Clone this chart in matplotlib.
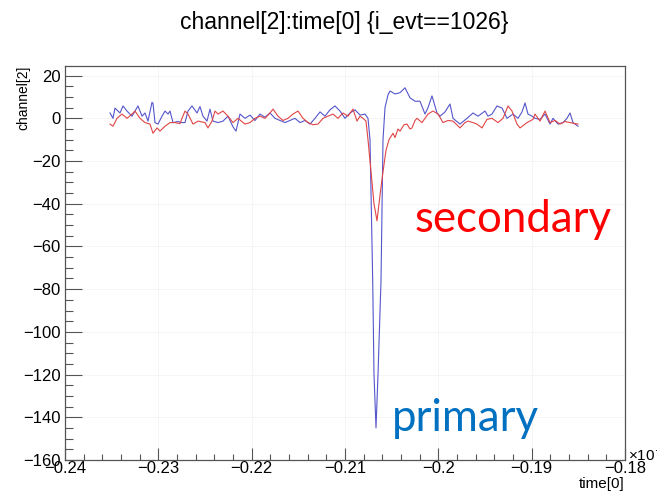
import matplotlib
matplotlib.use("Agg")
import matplotlib.pyplot as plt
from matplotlib.ticker import MultipleLocator

# pixel positions, converted to axis units below
blue_px = [110, 113, 115, 120, 123, 127, 132, 138, 142, 145, 148, 152, 153, 155, 158,
           162, 165, 168, 170, 173, 178, 182, 185, 188, 192, 197, 200, 203, 207, 210,
           213, 218, 223, 228, 233, 236, 240, 245, 250, 255, 260, 265, 270, 275, 280,
           285, 290, 295, 300, 305, 310, 315, 320, 325, 330, 335, 340, 345, 350, 355,
           360, 365, 368, 370, 372.7, 374, 376, 378, 381, 383, 385, 388, 390, 395, 400,
           405, 410, 415, 420, 425, 428, 432, 437, 440, 445, 450, 453, 460, 467, 473,
           478, 485, 488, 492, 497, 502, 507, 513, 518, 522, 525, 528, 532, 535, 540,
           545, 550, 553, 558, 563, 567, 570, 573, 578]
blue_v = [2.5, 0, 4.8, 2.5, 5.8, 3.4, 1, 5.8, 1, 2.5, -1.3, 7.5, 7, -2, -2.7,
          1, 3.4, 2, 3.4, -2, -1.5, -2, -2, 3.4, 5.8, 2.5, 5.5, 1, -1.3, 4.3,
          -1.3, -2, -1.3, 1, -4, -6, 2, 0, 1.5, -1, 2, 0.5, 2.5, 0, -1,
          -2, -1, 0, -2, -1, -2.7, 0, 3, 1, 4, 5.8, 3.4, 0, 2.5, 4,
          1.5, 2, 0, -10, -76, -120, -145, -120, -76, -10, 5, 11, 12.8, 11.4, 12,
          14.3, 9.6, 8, 8, 2, 5, 10.5, 2.5, 1, 3, 6.7, 0, -2.7, 0, 2.5,
          1, 3.4, 1, 2, 5.8, 4.8, 0, 2, 0, 3, 7.2, 2, 1, 0, -0.5,
          2, -2.7, 0, -2.7, -2, 0, 2.5, -2, -3.7]

red_px = [110, 113, 117, 122, 127, 132, 135, 140, 145, 150, 153, 157, 160, 165, 170,
          175, 180, 182, 185, 188, 193, 198, 205, 208, 212, 215, 218, 223, 228, 233,
          238, 245, 250, 255, 260, 265, 270, 273, 278, 283, 288, 293, 298, 303, 308,
          313, 318, 323, 328, 333, 338, 343, 348, 353, 357, 360, 363, 366, 368, 371,
          374, 377, 380, 383, 386, 389, 393, 395, 398, 400, 404, 407, 410, 412, 415,
          417, 422, 425, 428, 433, 438, 443, 448, 453, 460, 465, 468, 473, 477, 482,
          487, 492, 498, 503, 508, 512, 517, 520, 527, 533, 535, 540, 545, 550, 555,
          560, 565, 570, 575, 578]
red_v = [-2.7, -3.7, 0, 2, 0, 2, 3.4, 0, -2, -2.7, -7, -4.5, -6, -3.7, -2,
         -2, -2.5, 0, 3.4, 2, -2.7, -1.3, -2, -4.5, -1.3, 3.4, 2, 3.4, 1, -2,
         0, -2.7, -2, 0, 1, 0, 2.5, 4.3, 1, -1, 0, 2, 3.4, 0, -2,
         -3, -2.7, 0, 1, 2, 0, 2.5, 1, 4.3, -1.3, 1, 0, -1.3, -10, -25,
         -40, -48, -36, -25, -15, -10, -7, -9, -5, -6, -3, -2.7, -5, -4.5, -1,
         0, -2, 0, 2, 3.4, 2, -2, -1, -1.3, -4.5, -2, -1.3, -2, -2.7, -4.5,
         -0.5, 0, -2, 0, 5.8, 3.4, -2.7, -4.5, -2, -0.5, 2, -1.3, 3.4, -2, -1,
         -2.7, -1.5, -2, -2.5, -2.7]

x_ticks = [-0.24, -0.23, -0.22, -0.21, -0.2, -0.19, -0.18]
x_labels = ["\u22120.24", "\u22120.23", "\u22120.22", "\u22120.21", "\u22120.2", "\u22120.19", "\u22120.18"]
y_ticks = [20, 0, -20, -40, -60, -80, -100, -120, -140, -160]


def px_to_t(p):
    return -0.24 + (p - 65) * 0.06 / 560


def main():
    plt.rcParams['font.family'] = ['Liberation Sans', 'DejaVu Sans']
    fig = plt.figure(figsize=(6.57, 4.94), dpi=100)
    ax = fig.add_axes([65 / 657, (494 - 460) / 494, 560 / 657, 394 / 494])

    ax.plot([px_to_t(p) for p in blue_px], blue_v, color="#5555cc", lw=0.8)
    ax.plot([px_to_t(p) for p in red_px], red_v, color="#e04545", lw=0.8)

    ax.set_xlim(-0.24, -0.18)
    ax.set_ylim(-160, 24.5)
    ax.set_xticks(x_ticks)
    ax.set_xticklabels(x_labels)
    ax.set_yticks(y_ticks)
    ax.set_yticklabels([str(v).replace("-", "\u2212") for v in y_ticks])
    ax.xaxis.set_minor_locator(MultipleLocator(0.002))
    ax.yaxis.set_minor_locator(MultipleLocator(5))
    ax.tick_params(axis="x", which="major", direction="in", length=8.5, width=0.8,
                   labelsize=12, pad=1, color="#555555")
    ax.tick_params(axis="x", which="minor", direction="in", length=4.3, width=0.8,
                   color="#555555")
    ax.tick_params(axis="y", which="major", direction="in", length=12, width=0.8,
                   labelsize=12, pad=3, color="#555555")
    ax.tick_params(axis="y", which="minor", direction="in", length=6, width=0.8,
                   color="#555555")
    ax.grid(True, color="#f4f4f4", lw=0.6)
    ax.set_axisbelow(True)
    for s in ax.spines.values():
        s.set_color("#555555")
        s.set_linewidth(0.9)

    fig.text(344 / 657, 1 - 22 / 494, "channel[2]:time[0] {i_evt==1026}",
             ha="center", va="center", fontsize=16.5)
    fig.text(23 / 657, 1 - 66 / 494, "channel[2]", rotation=90,
             ha="center", va="top", fontsize=10)
    fig.text(625 / 657, 1 - 484 / 494, "time[0]", ha="right", va="center", fontsize=11)
    fig.text(628 / 657, 1 - 455 / 494, "\u00d710$^{-6}$", ha="left", va="center", fontsize=11)

    ax.text(-0.2025, -47.6, "secondary", color="#ff0000", fontsize=31.5,
            family="Lato", ha="left", va="center")
    ax.text(-0.20497, -140.4, "primary", color="#0070c0", fontsize=31.5,
            family="Lato", ha="left", va="center")

    fig.savefig("out.png", dpi=100, facecolor="white")


if __name__ == "__main__":
    main()
